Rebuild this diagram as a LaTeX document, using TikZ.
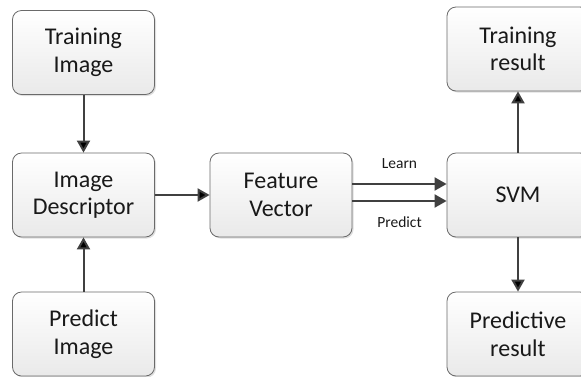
\documentclass[tikz,border=0pt]{standalone}
\usepackage{fontspec}
\setmainfont{Carlito}
\usepackage{tikz}
\usetikzlibrary{arrows.meta,shadows,positioning}
\definecolor{boxline}{HTML}{6A6A6A}
\definecolor{pfeilgrau}{HTML}{404040}

\begin{document}
\begin{tikzpicture}[x=1pt,y=-1pt,
      block/.style={rectangle, rounded corners=9pt, draw=boxline, line width=0.8pt, top color=white, bottom color=gray!17, minimum width=142pt, minimum height=84pt, align=center, text=black!90, font=\fontsize{24}{27.5}\selectfont, drop shadow={shadow xshift=1.5pt, shadow yshift=-1.5pt, opacity=0.25, fill=gray}},
      pfeil/.style={-{Triangle[length=12pt,width=13pt]}, draw=pfeilgrau, line width=2pt},
      lbl/.style={inner sep=0pt, text=black!90, font=\fontsize{15.5}{18}\selectfont}]

\useasboundingbox (0,0) rectangle (581,376);

\node[block] (train) at (83.5,52.5) {Training\\Image};
\node[block] (desc) at (83.5,195) {Image\\Descriptor};
\node[block] (pred) at (83.5,334) {Predict\\Image};
\node[block] (feat) at (281,195) {Feature\\Vector};
\node[block] (svm) at (518,195) {SVM};
\node[block] (tres) at (518,49) {Training\\result};
\node[block] (pres) at (518,334) {Predictive\\result};
\draw[pfeil] (train) edge (desc);
\draw[pfeil] (pred) edge (desc);
\draw[pfeil] (desc) edge (feat);
\draw[pfeil] ([yshift=11pt]feat.east) -- node[lbl,above=14pt] {Learn} ([yshift=11pt]svm.west);
\draw[pfeil] ([yshift=-6pt]feat.east) -- node[lbl,below=14.5pt] {Predict} ([yshift=-6pt]svm.west);
\draw[pfeil] (svm) edge (tres);
\draw[pfeil] (svm) edge (pres);

\end{tikzpicture}
\end{document}
